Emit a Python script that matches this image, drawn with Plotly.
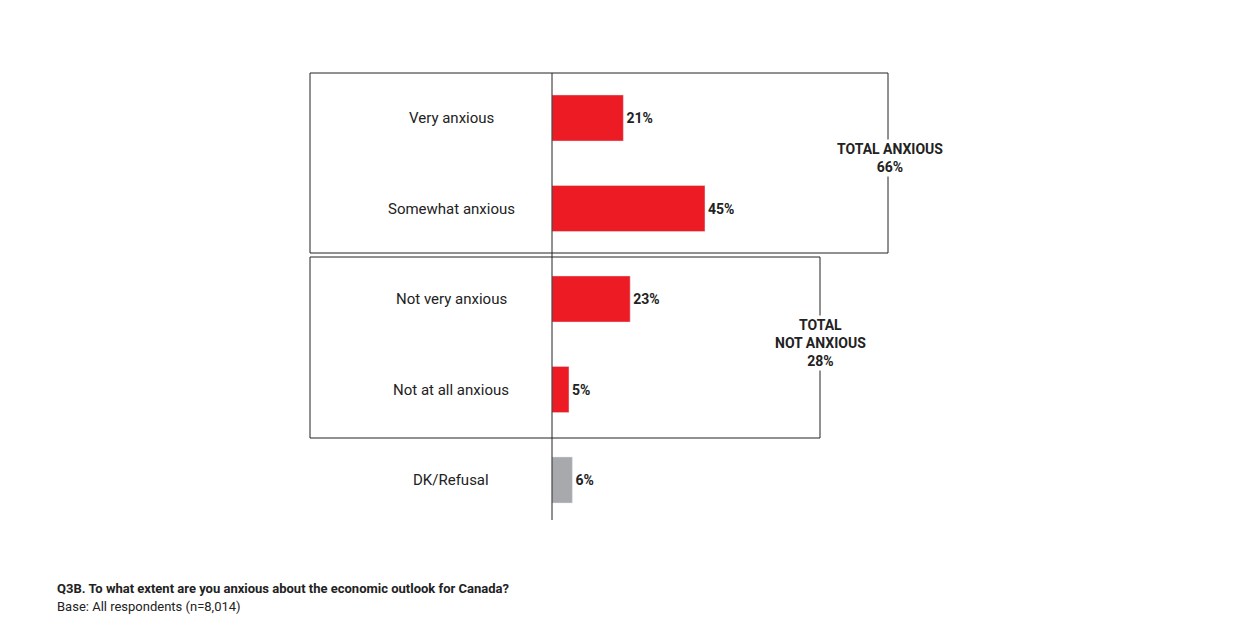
import plotly.graph_objects as go

categories = ["Very anxious", "Somewhat anxious", "Not very anxious", "Not at all anxious", "DK/Refusal"]
values = [21, 45, 23, 5, 6]
colors = ["#ED1C24"] * 4 + ["#A7A9AC"]

W, H = 1255, 637
PX = 3.4          # pixels per percent
X0 = 544          # pixel of zero line
Y0, DY = 110, 90.5

def px_x(p):
    return (p - X0) / PX

def px_y(p):
    return (p - Y0) / DY

ypos = list(range(len(categories)))

fig = go.Figure(go.Bar(
    x=values, y=ypos, orientation="h", width=0.51,
    marker_color=colors,
    text=[f"<b>{v}%</b>" for v in values], textposition="outside",
    textfont=dict(size=14, color="#222"), cliponaxis=False,
))

font = "Roboto, Arial, sans-serif"
ann = []
for i, c in enumerate(categories):
    ann.append(dict(x=px_x(443), y=i, text=c, showarrow=False, xanchor="center",
                    font=dict(size=15, color="#222")))
ann.append(dict(x=px_x(882), y=px_y(150), text="<b>TOTAL ANXIOUS<br>66%</b>", showarrow=False,
                font=dict(size=14, color="#222")))
ann.append(dict(x=px_x(812), y=px_y(335), text="<b>TOTAL<br>NOT ANXIOUS<br>28%</b>", showarrow=False,
                font=dict(size=14, color="#222")))
ann.append(dict(x=47 / W, y=1 - 590 / H, xref="paper", yref="paper", xanchor="left",
                text="<b>Q3B. To what extent are you anxious about the economic outlook for Canada?</b>",
                showarrow=False, font=dict(size=13, color="#222")))
ann.append(dict(x=47 / W, y=1 - 608 / H, xref="paper", yref="paper", xanchor="left",
                text="Base: All respondents (n=8,014)", showarrow=False, font=dict(size=13, color="#222")))

line = dict(color="#222", width=1)
shapes = [
    dict(type="rect", x0=px_x(302), x1=px_x(880), y0=px_y(65), y1=px_y(245), line=line, layer="below"),
    dict(type="rect", x0=px_x(302), x1=px_x(812), y0=px_y(249), y1=px_y(430), line=line, layer="below"),
    dict(type="line", x0=0, x1=0, y0=px_y(65), y1=px_y(512), line=line),
]
# white backgrounds behind total labels to break the box lines
fig.update_layout(
    width=W, height=H, margin=dict(l=0, r=0, t=0, b=0),
    paper_bgcolor="white", plot_bgcolor="white", showlegend=False,
    font=dict(family=font),
    xaxis=dict(range=[px_x(0), px_x(W)], visible=False),
    yaxis=dict(range=[px_y(H), px_y(0)], visible=False),
    annotations=ann, shapes=shapes,
)
for a in fig.layout.annotations[5:7]:
    a.bgcolor = "white"

fig.write_html("out.html")
